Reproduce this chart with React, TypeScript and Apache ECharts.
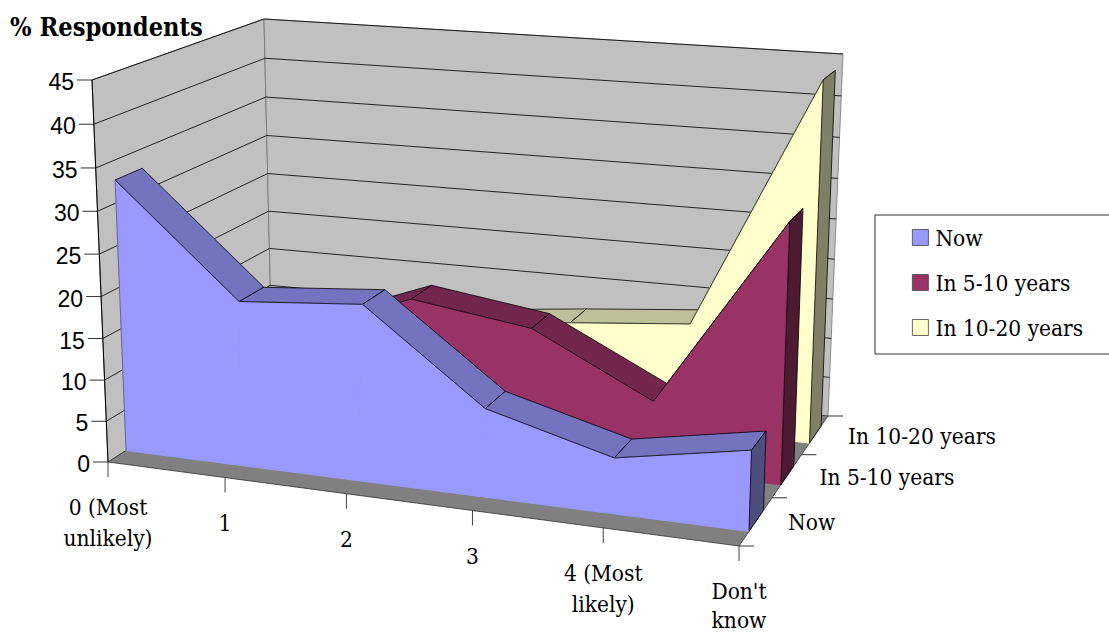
import React, { useEffect, useRef } from "react";
import * as echarts from "echarts";

const categories = ["0 (Most\nunlikely)", "1", "2", "3", "4 (Most\nlikely)", "Don't\nknow"];
const depthLabels = ["Now", "In 5-10 years", "In 10-20 years"];
const valueTicks = [0, 5, 10, 15, 20, 25, 30, 35, 40, 45];
const nowValues = [32.7, 19.7, 20.8, 10.3, 6.4, 9.1];
const midValues = [9, 12, 17.5, 15.4, 8.2, 30.5];
const farValues = [5, 5, 10.5, 12, 13.3, 43.7];

type Pt = [number, number];
const SERIF = "'DejaVu Serif Condensed', 'DejaVu Serif', serif";
const SANS = "'Liberation Sans', sans-serif";

// Corners of the box in screen space: front-left, front-right, back-right, back-left
const FLOOR: Pt[] = [[108, 462], [739, 546], [828, 416], [272, 358]];
const CEIL: Pt[] = [[92, 80], [752, 122], [843, 54], [264, 19]];
const GRID = { left: 0, top: 0, width: 1000, height: 450 };
const DEPTH_BANDS = 3;
const FRONT_GAP = 0.29;
const BACK_GAP = 0.73;
const HEIGHT_W = 0.955;
const AREA_EASE = 0.015;
const TICK_EASE = 0.047;

// Unit square to quadrilateral homography
function quadMap(q: Pt[]) {
  const [[x0, y0], [x1, y1], [x2, y2], [x3, y3]] = q;
  const dx1 = x1 - x2, dx2 = x3 - x2, sx = x0 - x1 + x2 - x3;
  const dy1 = y1 - y2, dy2 = y3 - y2, sy = y0 - y1 + y2 - y3;
  const den = dx1 * dy2 - dx2 * dy1;
  const g = (sx * dy2 - dx2 * sy) / den;
  const h = (dx1 * sy - sx * dy1) / den;
  const a = x1 - x0 + g * x1, b = x3 - x0 + h * x3;
  const d = y1 - y0 + g * y1, e = y3 - y0 + h * y3;
  return (u: number, v: number): Pt => {
    const w = g * u + h * v + 1;
    return [(a * u + b * v + x0) / w, (d * u + e * v + y0) / w];
  };
}
const floorMap = quadMap(FLOOR);
const ceilMap = quadMap(CEIL);

// u: 0..1 along categories, z: 0..3 in depth bands, t: 0..1 up the value axis
function project(u: number, z: number, t: number, ease = AREA_EASE): Pt {
  const ue = u + ease * u * (1 - u);
  const a = floorMap(ue, z / DEPTH_BANDS);
  const b = ceilMap(ue, z / DEPTH_BANDS);
  const s = (t * HEIGHT_W) / (1 - t + t * HEIGHT_W);
  return [a[0] + (b[0] - a[0]) * s, a[1] + (b[1] - a[1]) * s];
}

function areaRenderer(values: number[], band: number, front: string, top: string, side: string) {
  return (_params: any, api: any) => {
    const i = api.value(0) as number;
    const toUT = (idx: number, v: number) => {
      const c = api.coord([idx, v]);
      return [(c[0] - GRID.left) / GRID.width, 1 - (c[1] - GRID.top) / GRID.height];
    };
    const zF = band + FRONT_GAP;
    const zB = band + BACK_GAP;
    const children: any[] = [];
    const [u0, t0] = toUT(i, api.value(1));
    if (i === 0) {
      const a = project(u0, zF, 0), b = project(u0, zF, t0);
      children.push({ type: "line", z2: 3, shape: { x1: a[0], y1: a[1], x2: b[0], y2: b[1] }, style: { stroke: "#444", lineWidth: 0.6 } });
    }
    if (i < values.length - 1) {
      const [u1, t1] = toUT(i + 1, values[i + 1]);
      children.push({
        type: "polygon", z2: 1,
        shape: { points: [project(u0, zF, t0), project(u1, zF, t1), project(u1, zB, t1), project(u0, zB, t0)] },
        style: { fill: top, stroke: "#000", lineWidth: 0.8 },
      });
      children.push({
        type: "polygon", z2: 2,
        shape: { points: [project(u0, zF, 0), project(u0, zF, t0), project(u1, zF, t1), project(u1, zF, 0)] },
        style: { fill: front, stroke: front, lineWidth: 1 },
      });
      children.push({
        type: "line", z2: 3,
        shape: { x1: project(u0, zF, t0)[0], y1: project(u0, zF, t0)[1], x2: project(u1, zF, t1)[0], y2: project(u1, zF, t1)[1] },
        style: { stroke: "#000", lineWidth: 0.8 },
      });
    } else {
      children.push({
        type: "polygon", z2: 4,
        shape: { points: [project(u0, zF, 0), project(u0, zF, t0), project(u0, zB, t0), project(u0, zB, 0)] },
        style: { fill: side, stroke: "#000", lineWidth: 0.8 },
      });
    }
    return { type: "group", children };
  };
}

function seg(a: Pt, b: Pt, stroke: string, lineWidth = 1) {
  return { type: "line", shape: { x1: a[0], y1: a[1], x2: b[0], y2: b[1] }, style: { stroke, lineWidth } };
}

function frameElements() {
  const els: any[] = [];
  const maxTick = valueTicks[valueTicks.length - 1];
  els.push({ type: "polygon", shape: { points: [project(0, 0, 0), project(0, 3, 0), project(0, 3, 1), project(0, 0, 1)] }, style: { fill: "#c0c0c0", stroke: "#555", lineWidth: 0.8 } });
  els.push({ type: "polygon", shape: { points: [project(0, 3, 0), project(1, 3, 0), project(1, 3, 1), project(0, 3, 1)] }, style: { fill: "#c0c0c0", stroke: "#777", lineWidth: 0.8 } });
  els.push({ type: "polygon", shape: { points: [project(0, 0, 0), project(1, 0, 0), project(1, 3, 0), project(0, 3, 0)] }, style: { fill: "#808080", stroke: "#333", lineWidth: 0.8 } });
  valueTicks.forEach((v) => {
    const t = v / maxTick;
    const front = project(0, 0, t);
    const corner = project(0, 3, t);
    if (v > 0) {
      els.push(seg(front, corner, "#111", 0.9));
      els.push(seg(corner, project(1, 3, t), "#111", 0.9));
    }
    els.push(seg([front[0] - 15, front[1]], front, "#333", 1));
    els.push({ type: "text", style: { text: String(v), x: front[0] - 18, y: front[1] + 2, align: "right", verticalAlign: "middle", font: `23px ${SANS}`, fill: "#000" } });
  });
  els.push(seg(project(0, 0, 0), project(0, 0, 1), "#000", 1));
  categories.forEach((c, i) => {
    const last = i === categories.length - 1;
    const p = project(i / (categories.length - 1), 0, 0, TICK_EASE);
    els.push(seg(p, [p[0], p[1] + 15], "#444", 1));
    els.push({ type: "text", style: { text: c, x: p[0], y: p[1] + (last ? 30 : 29.5), align: "center", verticalAlign: "top", font: `22.5px ${SERIF}`, lineHeight: last ? 29 : 31, fill: "#000" } });
  });
  for (let z = 0; z <= DEPTH_BANDS; z++) {
    const p = project(1, z, 0);
    els.push(seg(p, [p[0] + 15, p[1]], "#333", 1));
    if (z > 0) {
      els.push({ type: "text", style: { text: depthLabels[z - 1], x: p[0] + 14 + 2 * z, y: p[1] + 26 - 2 * z, align: "left", verticalAlign: "middle", font: `22.5px ${SERIF}`, fill: "#000" } });
    }
  }
  els.push({ type: "text", style: { text: "% Respondents", x: 10, y: 27, align: "left", verticalAlign: "middle", font: `bold 25.2px ${SERIF}`, fill: "#000" } });
  return els;
}

export default function App() {
  const ref = useRef<HTMLDivElement>(null);
  useEffect(() => {
    if (!ref.current) return;
    const chart = echarts.init(ref.current, undefined, { renderer: "svg" });
    const rows = (vals: number[]) => vals.map((v, i) => [i, v]);
    const mk = (name: string, vals: number[], band: number, z: number, front: string, top: string, side: string) => ({
      type: "custom", name, z, data: rows(vals), encode: { x: 0, y: 1 },
      itemStyle: { color: front },
      renderItem: areaRenderer(vals, band, front, top, side),
    });
    chart.setOption({
      animation: false,
      backgroundColor: "#fff",
      grid: GRID,
      xAxis: { type: "category", data: categories, boundaryGap: false, show: false },
      yAxis: { type: "value", min: 0, max: 45, interval: 5, show: false },
      legend: {
        left: 875, top: 215, orient: "vertical", selectedMode: false,
        padding: [11, 40, 15, 37], itemGap: 22, itemWidth: 16, itemHeight: 16,
        borderColor: "#333", borderWidth: 1, icon: "rect",
        itemStyle: { borderColor: "#444", borderWidth: 0.8 },
        textStyle: { fontFamily: SERIF, fontSize: 22.5, color: "#000", padding: [0, 0, 0, 2] },
        data: depthLabels,
      },
      graphic: { elements: frameElements() },
      series: [
        mk(depthLabels[2], farValues, 2, 3, "#ffffcc", "#bfbf99", "#808066"),
        mk(depthLabels[1], midValues, 1, 4, "#993366", "#73264d", "#4d1a33"),
        mk(depthLabels[0], nowValues, 0, 5, "#9999ff", "#7373bf", "#4d4d80"),
      ],
    });
    return () => chart.dispose();
  }, []);
  return <div ref={ref} style={{ position: "fixed", left: 0, top: 0, width: 1109, height: 632 }} />;
}
